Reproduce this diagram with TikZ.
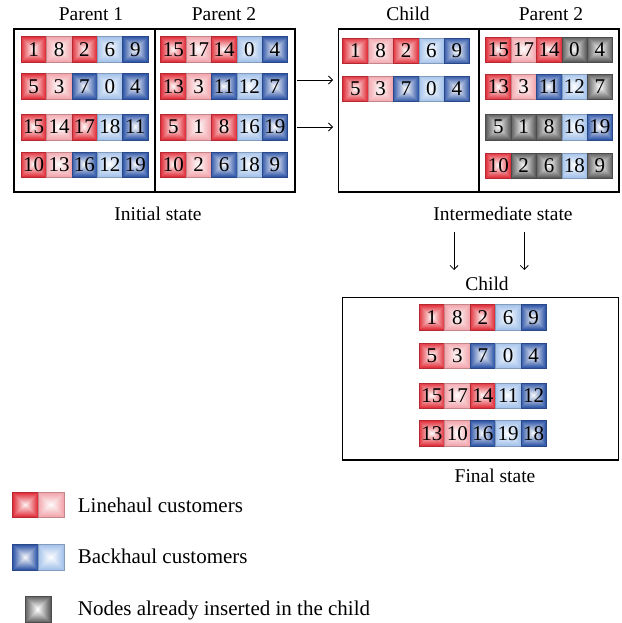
\documentclass[tikz,border=0pt]{standalone}
\usepackage{fontspec}
\setmainfont{Liberation Serif}
\usetikzlibrary{calc,arrows.meta}
\definecolor{cRD}{RGB}{226,52,62}
\definecolor{cRL}{RGB}{242,168,174}
\definecolor{cBD}{RGB}{52,90,170}
\definecolor{cBL}{RGB}{165,195,235}
\definecolor{cGR}{RGB}{95,95,95}
\newcommand{\cellfont}{\fontsize{21}{21}\selectfont}
\newcommand{\labfont}{\fontsize{19.5}{22}\selectfont}
\newcommand{\legfont}{\fontsize{21}{22}\selectfont}
\tikzset{
  cellbase/.style={minimum width=25.4pt, minimum height=25.5pt, inner sep=0pt,
    anchor=north west, font=\cellfont, text=black, draw=#1!80!black, line width=0.5pt,
    path picture={\foreach \s in {0,...,12}{\pgfmathtruncatemacro\pc{100-8*\s}
      \fill[#1!\pc!white] ($(path picture bounding box.south west)+(\s pt,\s pt)$)
        rectangle ($(path picture bounding box.north east)-(\s pt,\s pt)$);}}},
  R/.style={cellbase=cRD}, r/.style={cellbase=cRL},
  B/.style={cellbase=cBD}, b/.style={cellbase=cBL},
  G/.style={cellbase=cGR},
  frame/.style={draw=black, line width=1.1pt},
  lab/.style={font=\labfont, anchor=base, inner sep=0pt},
  leg/.style={font=\legfont, anchor=base west, inner sep=0pt},
  arr/.style={line width=0.8pt, -{Straight Barb[length=4pt,width=8pt]}}
}
\newcommand{\cellrow}[4]{% name, x, y, list
  \foreach \t/\n [count=\k from 0] in {#4}{
    \node[\t] (#1c\k) at ({#2+25.4*\k},#3) {\n};
  }}
\begin{document}
\begin{tikzpicture}[x=1pt,y=-1pt]
\useasboundingbox (0,0) rectangle (621,623);
% frames
\draw[frame] (14,29) rectangle (295,192);
\draw[frame] (155,29) -- (155,192);
\draw[frame] (338.5,29) rectangle (619,192);
\draw[frame] (479,29) -- (479,192);
\draw[frame] (342.7,297.3) rectangle (618.3,460);
% titles
\node[lab] (tp1) at (91,21) {Parent 1};
\node[lab] (tp2) at (224,21) {Parent 2};
\node[lab] (tch) at (408,21) {Child};
\node[lab] (tp2b) at (551,21) {Parent 2};
\node[lab] (tinit) at (158,220) {Initial state};
\node[lab] (tinter) at (503,220.5) {Intermediate state};
\node[lab] (tch2) at (487,290) {Child};
\node[lab] (tfin) at (495,482.5) {Final state};
% Parent 1
\cellrow{pa1}{20.7}{36.5}{R/1,r/8,R/2,b/6,B/9}
\cellrow{pa2}{20.7}{73.5}{R/5,r/3,B/7,b/0,B/4}
\cellrow{pa3}{20.7}{114}{R/15,r/14,R/17,b/18,B/11}
\cellrow{pa4}{20.7}{151.7}{R/10,r/13,B/16,b/12,B/19}
% Parent 2
\cellrow{pb1}{160.3}{36.5}{R/15,r/17,R/14,b/0,B/4}
\cellrow{pb2}{160.3}{73.5}{R/13,r/3,B/11,b/12,B/7}
\cellrow{pb3}{160.3}{114}{R/5,r/1,R/8,b/16,B/19}
\cellrow{pb4}{160.3}{151.7}{R/10,r/2,B/6,b/18,B/9}
% Child intermediate
\cellrow{ca1}{342.3}{38}{R/1,r/8,R/2,b/6,B/9}
\cellrow{ca2}{342.3}{76}{R/5,r/3,B/7,b/0,B/4}
% Parent 2 intermediate
\cellrow{pc1}{485.3}{36.7}{R/15,r/17,R/14,G/0,G/4}
\cellrow{pc2}{485.3}{74}{R/13,r/3,B/11,b/12,G/7}
\cellrow{pc3}{485.3}{114}{G/5,G/1,G/8,b/16,B/19}
\cellrow{pc4}{485.3}{152.7}{R/10,G/2,G/6,b/18,G/9}
% Final child
\cellrow{fa1}{419}{304.3}{R/1,r/8,R/2,b/6,B/9}
\cellrow{fa2}{419}{342.7}{R/5,r/3,B/7,b/0,B/4}
\cellrow{fa3}{419}{382.7}{R/15,r/17,R/14,b/11,B/12}
\cellrow{fa4}{419}{420.3}{R/13,r/10,B/16,b/19,B/18}
% arrows
\coordinate (a1s) at (297,80);  \coordinate (a1e) at (333,80);
\coordinate (a2s) at (297,127); \coordinate (a2e) at (333,127);
\coordinate (d1s) at (454,232); \coordinate (d1e) at (454,270);
\coordinate (d2s) at (524.3,232); \coordinate (d2e) at (524.3,270);
\draw[arr] (a1s) -- (a1e);
\draw[arr] (a2s) -- (a2e);
\draw[arr] (d1s) -- (d1e);
\draw[arr] (d2s) -- (d2e);
% legend
\node[R, minimum height=24.4pt, minimum width=25.8pt] (lg1) at (12.3,492.3) {};
\node[r, minimum height=24.4pt, minimum width=25.8pt] (lg2) at (38.1,492.3) {};
\node[B, minimum height=25.7pt, minimum width=25.8pt] (lg3) at (12.3,544.3) {};
\node[b, minimum height=25.7pt, minimum width=25.8pt] (lg4) at (38.1,544.3) {};
\node[G, minimum height=26.3pt, minimum width=26pt] (lg5) at (25,596) {};
\node[leg] (lt1) at (77.7,512.3) {Linehaul customers};
\node[leg] (lt2) at (77.7,563.3) {Backhaul customers};
\node[leg] (lt3) at (77.7,615) {Nodes already inserted in the child};
\end{tikzpicture}
\end{document}
